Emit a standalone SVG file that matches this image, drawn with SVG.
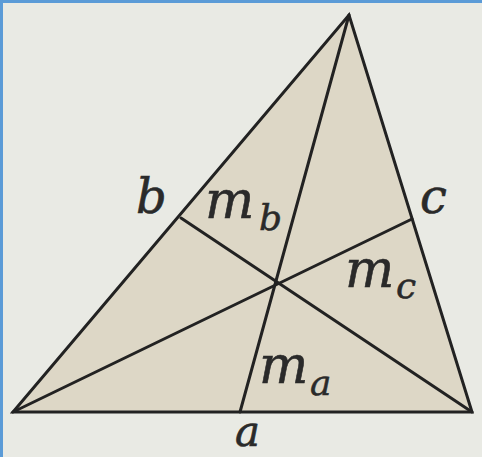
<svg xmlns="http://www.w3.org/2000/svg" width="482" height="457" viewBox="0 0 482 457">
<style>
.edge{stroke:#222;stroke-width:3;fill:none;stroke-linecap:round;stroke-linejoin:miter}
.lbl{font-family:"DejaVu Serif","Liberation Serif",serif;font-style:italic;fill:#2a2a2a;stroke:#2a2a2a;stroke-width:0.6;font-size:48px}
.m{font-size:52px}
.sub{font-family:"DejaVu Serif","Liberation Serif",serif;font-style:italic;fill:#2a2a2a;stroke:#2a2a2a;stroke-width:0.5;font-size:36px}
</style>
<rect x="0" y="0" width="482" height="457" fill="#e9eae4"/>
<rect x="0" y="0" width="482" height="3" fill="#5b9bd7"/>
<rect x="0" y="0" width="3" height="457" fill="#5b9bd7"/>
<g id="triangle">
<polygon points="13,412 472,412 349,15" fill="#ddd7c6"/>
<polygon class="edge" points="13,412 472,412 349,15"/>
</g>
<g id="connectors">
<line class="edge" x1="349" y1="15" x2="240" y2="412"/>
<line class="edge" x1="13" y1="412" x2="412" y2="219"/>
<line class="edge" x1="472" y1="412" x2="181" y2="218"/>
</g>
<g id="labels">
<text class="lbl" x="136" y="213">b</text>
<text class="lbl" x="420" y="213">c</text>
<text class="lbl" x="235" y="446" style="font-size:42px">a</text>
<g id="mb"><text class="lbl m" x="205" y="218">m</text><text class="sub" x="259" y="230">b</text></g>
<g id="mc"><text class="lbl m" x="345" y="287">m</text><text class="sub" x="396" y="298">c</text></g>
<g id="ma"><text class="lbl m" x="259" y="383">m</text><text class="sub" x="310" y="395">a</text></g>
</g>
</svg>
